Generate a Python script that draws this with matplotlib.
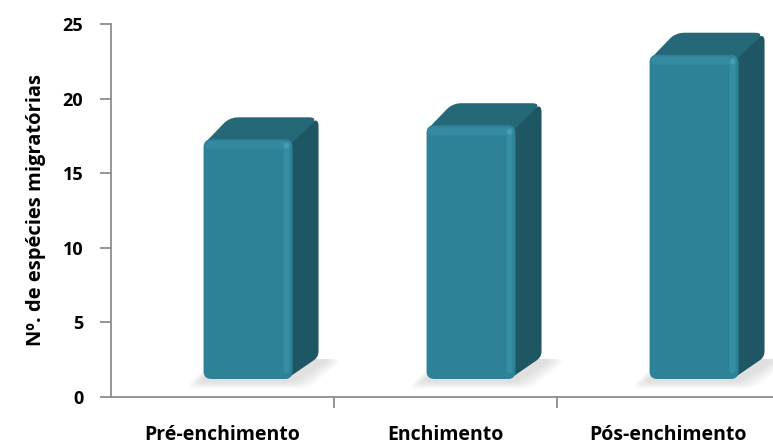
import numpy as np
import matplotlib.pyplot as plt
from matplotlib.patches import Polygon
import matplotlib.transforms as mtransforms

# data
categories = ['Pré-enchimento', 'Enchimento', 'Pós-enchimento']
values = [17, 18, 23]
y_ticks = [0, 5, 10, 15, 20, 25]
y_label = 'Nº. de espécies migratórias'

plt.rcParams['font.family'] = ['Open Sans', 'DejaVu Sans']

fig = plt.figure(figsize=(7.73, 4.45), dpi=100)
ax = fig.add_axes([111 / 773, 48 / 445, (780 - 111) / 773, (397 - 24) / 445])
ax.set_xlim(-0.5, 2.5)
ax.set_ylim(0, 25)

# pixel sizes in data units
px_x = 3 / (780 - 111)
px_y = 25 / (397 - 24)

floor = 18 * px_y          # bars stand a bit above the axis (3D floor)
hscale = 0.945             # perspective shrink of bar heights
width = 89 * px_x
dx = 26 * px_x
dy = 22 * px_y

front_col = '#2E8297'
side_col = '#1F5663'
top_col = '#256878'
bevel_col = '#3C98AE'


def rounded(pts, r):
    """round the corners of a polygon (data coords), radius r in pixels (one or per corner)"""
    p = np.array([(x / px_x, y / px_y) for x, y in pts])
    n = len(p)
    radii = r if isinstance(r, (list, tuple)) else [r] * n
    out = []
    for k in range(n):
        P, A, B = p[k], p[k - 1], p[(k + 1) % n]
        ua = (A - P) / np.linalg.norm(A - P)
        ub = (B - P) / np.linalg.norm(B - P)
        rr = min(radii[k], np.linalg.norm(A - P) / 2, np.linalg.norm(B - P) / 2)
        if rr <= 0:
            out.append(P)
            continue
        p1, p2 = P + rr * ua, P + rr * ub
        for t in np.linspace(0, 1, 8):
            out.append((1 - t) ** 2 * p1 + 2 * (1 - t) * t * P + t ** 2 * p2)
    out = np.array(out)
    return np.column_stack([out[:, 0] * px_x, out[:, 1] * px_y])


for i, v in enumerate(values):
    x0 = i - 0.085
    x1 = x0 + width
    top = floor + v * hscale

    # soft floor shadow
    for k in range(7):
        g = 2 + k * 2.2
        shp = Polygon(rounded([(x0 - g * px_x - 4 * px_x, floor - g * 0.5 * px_y - 2 * px_y),
                               (x1 + g * px_x, floor - g * 0.5 * px_y - 2 * px_y),
                               (x1 + dx + g * px_x + 10 * px_x, floor + dy - 2 * px_y),
                               (x0 + dx - g * px_x, floor + dy - 2 * px_y)], 10),
                      closed=True, facecolor='#8a8a8a', edgecolor='none',
                      alpha=0.04, zorder=1)
        ax.add_patch(shp)

    # side face
    side = Polygon(rounded([(x1 - 6 * px_x, floor), (x1 + dx, floor + dy), (x1 + dx, top + dy),
                            (x1 - 6 * px_x, top)], [0, 6, 9, 0]),
                   closed=True, facecolor=side_col, edgecolor='none', zorder=2)
    ax.add_patch(side)
    # top face
    topf = Polygon(rounded([(x0 + 2 * px_x, top - 3 * px_y), (x0 + dx, top + dy),
                            (x1 + dx, top + dy), (x1, top - 3 * px_y)], [0, 9, 10, 0]),
                   closed=True, facecolor=top_col, edgecolor='none', zorder=2)
    ax.add_patch(topf)

    # front face with rounded corners
    front = Polygon(rounded([(x0, floor), (x1, floor), (x1, top), (x0, top)], 8),
                    closed=True, facecolor=front_col, edgecolor='none', zorder=3)
    ax.add_patch(front)
    # bevel highlights
    ax.add_patch(Polygon(rounded([(x0 + 2 * px_x, top - 10 * px_y), (x1 - 2 * px_x, top - 10 * px_y),
                                  (x1 - 2 * px_x, top - 2 * px_y), (x0 + 2 * px_x, top - 2 * px_y)], 4),
                         closed=True, facecolor=bevel_col, edgecolor='none', alpha=0.45, zorder=4))
    ax.add_patch(Polygon(rounded([(x1 - 9 * px_x, floor + 6 * px_y), (x1 - 3 * px_x, floor + 6 * px_y),
                                  (x1 - 3 * px_x, top - 6 * px_y), (x1 - 9 * px_x, top - 6 * px_y)], 3),
                         closed=True, facecolor=bevel_col, edgecolor='none', alpha=0.55, zorder=4))
    ax.plot([x1 - 7 * px_x], [top - 6 * px_y], marker='o', ms=4, color='#4AA6BA',
            alpha=0.7, mec='none', zorder=5)

# axes styling
for s in ['top', 'right']:
    ax.spines[s].set_visible(False)
for s in ['left', 'bottom']:
    ax.spines[s].set_color('#8c8c8c')
    ax.spines[s].set_linewidth(1.3)

ax.set_yticks(y_ticks)
ax.set_yticklabels([str(t) for t in y_ticks], fontweight='bold', fontsize=13)
ax.set_xticks([0.5, 1.5])
ax.set_xticklabels([])
ax.tick_params(axis='y', direction='out', length=8, width=1.3, color='#8c8c8c', pad=12)
ax.tick_params(axis='x', direction='out', length=8, width=1.3, color='#8c8c8c')

ax.set_ylabel(y_label, fontweight='bold', fontsize=14.5, labelpad=12)

trans = mtransforms.blended_transform_factory(ax.transData, ax.transAxes)
for i, c in enumerate(categories):
    ax.text(i, -(440 - 397) / 373, c, transform=trans, ha='center', va='baseline',
            fontweight='bold', fontsize=14)

fig.savefig('out.png', dpi=100)
